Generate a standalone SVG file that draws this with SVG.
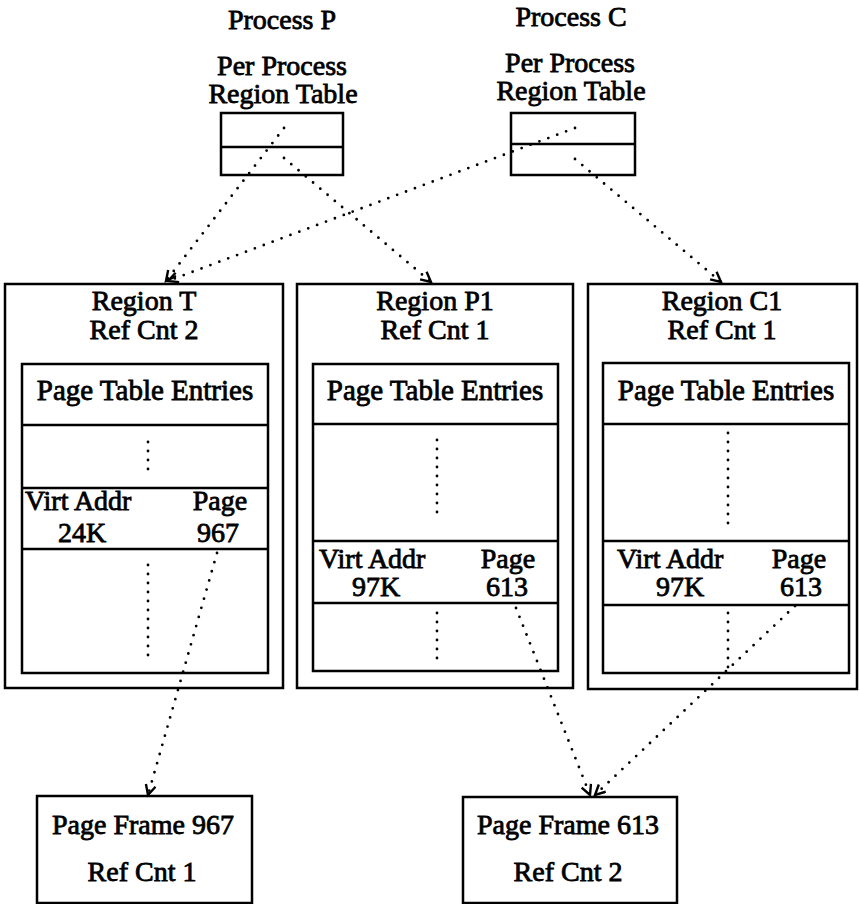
<svg xmlns="http://www.w3.org/2000/svg" width="860" height="904" viewBox="0 0 860 904">
<defs>
<marker id="arr" markerUnits="userSpaceOnUse" markerWidth="16" markerHeight="16" refX="11" refY="6" orient="auto">
<path d="M1,1 L11,6 L1,11" fill="none" stroke="#000" stroke-width="2.4" stroke-dasharray="none"/>
</marker>
<style>
.t{font-family:"Liberation Serif","Times New Roman",serif;font-weight:normal;font-size:28px;fill:#000;stroke:#000;stroke-width:0.8}
.pte{font-size:29px}
.m{text-anchor:middle}
.box{fill:none;stroke:#000;stroke-width:2.5}
.ln{stroke:#000;stroke-width:2.5}
.dot{fill:none;stroke:#000;stroke-width:2.8;stroke-linecap:round;stroke-dasharray:0 9}
.conn{fill:none;stroke:#000;stroke-width:2.8;stroke-linecap:round;stroke-dasharray:0 9.5;marker-end:url(#arr)}
</style>
</defs>
<rect width="860" height="904" fill="#fff"/>

<g id="processP">
<text class="t m" x="282" y="29">Process P</text>
<text class="t m" x="282" y="75">Per Process</text>
<text class="t m" x="283" y="103">Region Table</text>
<rect class="box" x="221" y="113" width="122" height="62"/>
<line class="ln" x1="221" y1="147" x2="343" y2="147"/>
</g>

<g id="processC">
<text class="t m" x="571" y="26">Process C</text>
<text class="t m" x="570" y="72">Per Process</text>
<text class="t m" x="571" y="100">Region Table</text>
<rect class="box" x="511" y="113" width="124" height="62"/>
<line class="ln" x1="511" y1="144" x2="635" y2="144"/>
</g>

<g id="regionT">
<rect class="box" x="5" y="284" width="278" height="404"/>
<text class="t m" x="144" y="310">Region T</text>
<text class="t m" x="144" y="339">Ref Cnt 2</text>
<rect class="box" x="22" y="364" width="246" height="309"/>
<line class="ln" x1="22" y1="425" x2="268" y2="425"/>
<line class="ln" x1="22" y1="488" x2="268" y2="488"/>
<line class="ln" x1="22" y1="549" x2="268" y2="549"/>
<text class="t pte m" x="145" y="400">Page Table Entries</text>
<line class="dot" x1="148" y1="442" x2="148" y2="474"/>
<text class="t" x="25" y="510">Virt Addr</text>
<text class="t m" x="220" y="510">Page</text>
<text class="t m" x="82" y="542">24K</text>
<text class="t m" x="218" y="542">967</text>
<line class="dot" x1="148" y1="565" x2="148" y2="658"/>
</g>

<g id="regionP1">
<rect class="box" x="297" y="284" width="276" height="404"/>
<text class="t m" x="435" y="310">Region P1</text>
<text class="t m" x="435" y="339">Ref Cnt 1</text>
<rect class="box" x="313" y="364" width="245" height="307"/>
<line class="ln" x1="313" y1="424" x2="558" y2="424"/>
<line class="ln" x1="313" y1="541" x2="558" y2="541"/>
<line class="ln" x1="313" y1="603" x2="558" y2="603"/>
<text class="t pte m" x="435" y="400">Page Table Entries</text>
<line class="dot" x1="437" y1="440" x2="437" y2="521"/>
<text class="t" x="319" y="568">Virt Addr</text>
<text class="t m" x="508" y="568">Page</text>
<text class="t m" x="376" y="596">97K</text>
<text class="t m" x="507" y="596">613</text>
<line class="dot" x1="437" y1="613" x2="437" y2="660"/>
</g>

<g id="regionC1">
<rect class="box" x="588" y="284" width="269" height="405"/>
<text class="t m" x="722" y="310">Region C1</text>
<text class="t m" x="722" y="339">Ref Cnt 1</text>
<rect class="box" x="603" y="363" width="246" height="310"/>
<line class="ln" x1="603" y1="424" x2="849" y2="424"/>
<line class="ln" x1="603" y1="541" x2="849" y2="541"/>
<line class="ln" x1="603" y1="605" x2="849" y2="605"/>
<text class="t pte m" x="726" y="400">Page Table Entries</text>
<line class="dot" x1="728" y1="433" x2="728" y2="527"/>
<text class="t" x="617" y="568">Virt Addr</text>
<text class="t m" x="799" y="568">Page</text>
<text class="t m" x="680" y="596">97K</text>
<text class="t m" x="801" y="596">613</text>
<line class="dot" x1="728" y1="613" x2="728" y2="668"/>
</g>

<g id="frame967">
<rect class="box" x="37" y="796" width="215" height="107"/>
<text class="t m" x="143" y="834">Page Frame 967</text>
<text class="t m" x="142" y="881">Ref Cnt 1</text>
</g>

<g id="frame613">
<rect class="box" x="463" y="797" width="214" height="106"/>
<text class="t m" x="568" y="834">Page Frame 613</text>
<text class="t m" x="568" y="881">Ref Cnt 2</text>
</g>

<g id="connectors">
<line class="conn" x1="284" y1="128" x2="166" y2="281"/>
<line class="conn" x1="284" y1="158" x2="431" y2="282"/>
<line class="conn" x1="575" y1="128" x2="168" y2="281"/>
<line class="conn" x1="575" y1="159" x2="721" y2="282"/>
<line class="conn" x1="217" y1="553" x2="148" y2="795"/>
<line class="conn" x1="516" y1="608" x2="590" y2="795"/>
<line class="conn" x1="795" y1="606" x2="595" y2="795"/>
</g>
</svg>
